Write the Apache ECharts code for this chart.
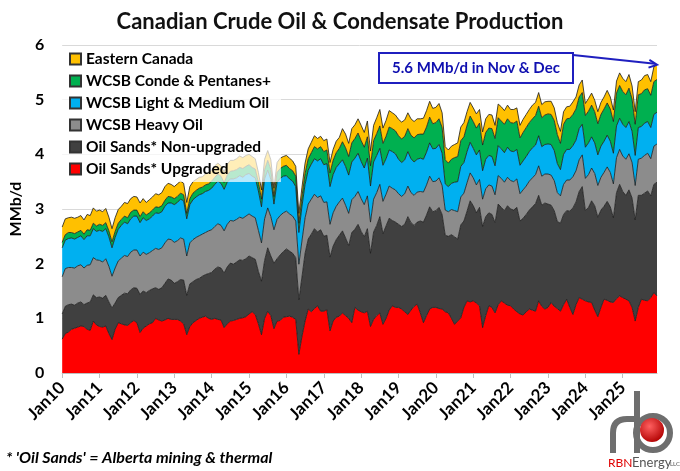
<!DOCTYPE html>
<html>
<head>
<meta charset="utf-8">
<script src="https://cdn.jsdelivr.net/npm/echarts@6/dist/echarts.min.js"></script>
<style>
  html, body { margin: 0; padding: 0; background: #fff; }
  #main { width: 680px; height: 471px; }
</style>
</head>
<body>
<div id="main"></div>
<script type="text/javascript">
// tick labels: Jan10 ... Dec25, monthly
var monthNames = ['Jan','Feb','Mar','Apr','May','Jun','Jul','Aug','Sep','Oct','Nov','Dec'];
var yearLabels = ['10','11','12','13','14','15','16','17','18','19','20','21','22','23','24','25'];

// MMb/d, one row per year
var upgraded = [
  0.62,0.72,0.75,0.80,0.82,0.84,0.86,0.85,0.80,0.78,0.95,0.88,
  0.85,0.84,0.86,0.72,0.61,0.80,0.92,0.90,0.88,0.87,0.92,0.96,
  0.92,0.74,0.82,0.86,0.90,0.92,1.00,0.97,0.95,0.97,1.00,0.98,
  0.98,0.98,0.95,0.90,0.70,0.85,0.92,0.96,1.00,1.02,1.04,1.00,
  0.98,1.00,0.98,0.97,0.83,0.90,0.95,0.96,0.98,1.00,1.01,1.03,
  1.08,1.12,1.07,0.90,0.70,1.00,1.13,1.05,0.81,0.95,0.96,1.02,
  1.03,1.04,1.02,0.98,0.34,0.67,0.95,1.17,1.12,1.18,1.23,1.13,
  1.13,1.16,0.77,0.95,1.02,1.04,1.10,1.05,1.00,0.92,1.20,1.15,
  1.12,1.10,1.13,0.85,0.98,1.05,1.10,0.89,1.00,1.15,1.23,1.20,
  1.20,1.17,1.12,1.07,1.15,1.22,1.26,1.10,0.92,1.05,1.17,1.20,
  1.20,1.18,1.17,1.12,1.10,1.00,0.89,0.95,1.01,1.20,1.32,1.30,
  1.32,1.28,1.23,0.83,1.05,1.23,1.20,1.10,1.25,1.32,1.28,1.24,
  1.23,1.17,1.12,1.08,1.06,1.12,1.17,1.15,1.13,1.32,1.22,1.17,
  1.20,1.29,1.22,1.18,1.13,1.25,1.35,1.20,1.07,1.25,1.38,1.35,
  1.32,1.30,1.29,1.15,1.03,1.20,1.35,1.33,1.30,1.29,1.36,1.41,
  1.38,1.35,1.32,1.20,0.95,1.20,1.35,1.33,1.32,1.38,1.47,1.41
];
var nonUpgraded = [
  0.46,0.50,0.50,0.46,0.42,0.44,0.44,0.40,0.48,0.52,0.48,0.50,
  0.54,0.53,0.56,0.58,0.58,0.48,0.46,0.52,0.58,0.58,0.60,0.60,
  0.63,0.70,0.68,0.61,0.61,0.62,0.56,0.56,0.61,0.67,0.72,0.72,
  0.66,0.69,0.76,0.80,0.72,0.78,0.75,0.75,0.73,0.75,0.76,0.82,
  0.86,0.90,0.96,0.95,1.00,1.04,1.06,1.03,1.05,1.07,1.05,1.06,
  1.06,0.99,1.01,0.96,0.98,1.06,1.16,1.09,1.20,1.14,1.20,1.20,
  1.24,1.19,1.17,1.13,1.00,1.09,1.24,1.28,1.42,1.46,1.35,1.49,
  1.37,1.36,1.35,1.37,1.42,1.48,1.50,1.42,1.33,1.65,1.43,1.57,
  1.47,1.39,1.51,1.34,1.60,1.65,1.76,1.66,1.69,1.68,1.56,1.56,
  1.52,1.51,1.60,1.79,1.60,1.48,1.50,1.68,1.84,1.84,1.87,1.75,
  1.77,1.85,1.73,1.40,1.40,1.53,1.60,1.50,1.70,1.58,1.64,1.85,
  1.74,1.65,1.80,1.85,1.81,1.70,1.70,1.65,1.84,1.71,1.69,1.82,
  1.77,1.81,1.91,1.70,1.77,1.78,1.81,1.89,1.97,1.93,1.85,1.94,
  1.89,1.78,1.75,1.59,1.61,1.65,1.62,1.76,1.95,1.88,1.94,2.06,
  1.65,1.73,1.86,1.91,1.82,1.78,1.70,1.81,1.74,1.55,1.94,2.04,
  1.94,1.90,2.03,2.00,1.85,2.05,1.90,1.96,2.01,1.86,1.98,2.08
];
var heavyOil = [
  0.68,0.69,0.68,0.67,0.68,0.68,0.68,0.67,0.69,0.68,0.68,0.69,
  0.67,0.66,0.67,0.65,0.58,0.64,0.67,0.68,0.69,0.68,0.69,0.69,
  0.70,0.70,0.71,0.70,0.69,0.70,0.72,0.73,0.73,0.74,0.73,0.74,
  0.75,0.75,0.76,0.75,0.72,0.75,0.77,0.77,0.78,0.77,0.77,0.78,
  0.78,0.78,0.79,0.78,0.77,0.78,0.78,0.79,0.78,0.78,0.77,0.78,
  0.77,0.76,0.76,0.75,0.70,0.76,0.73,0.72,0.61,0.72,0.72,0.71,
  0.69,0.68,0.68,0.67,0.65,0.66,0.65,0.64,0.64,0.63,0.63,0.62,
  0.62,0.61,0.60,0.61,0.61,0.61,0.60,0.60,0.59,0.60,0.60,0.60,
  0.60,0.59,0.60,0.57,0.60,0.60,0.59,0.59,0.58,0.59,0.59,0.59,
  0.56,0.55,0.56,0.56,0.55,0.55,0.55,0.54,0.55,0.55,0.56,0.55,
  0.54,0.54,0.53,0.46,0.45,0.46,0.48,0.50,0.51,0.51,0.52,0.51,
  0.51,0.51,0.51,0.50,0.51,0.51,0.52,0.51,0.52,0.53,0.52,0.52,
  0.52,0.52,0.52,0.50,0.52,0.52,0.53,0.53,0.53,0.54,0.53,0.53,
  0.55,0.55,0.55,0.53,0.50,0.55,0.56,0.57,0.57,0.57,0.58,0.58,
  0.59,0.60,0.60,0.59,0.58,0.60,0.62,0.63,0.63,0.62,0.64,0.64,
  0.65,0.66,0.66,0.65,0.63,0.66,0.68,0.69,0.69,0.68,0.70,0.70
];
var lightMedium = [
  0.53,0.52,0.53,0.54,0.53,0.52,0.53,0.52,0.54,0.53,0.53,0.52,
  0.55,0.56,0.55,0.54,0.52,0.56,0.58,0.60,0.61,0.60,0.61,0.62,
  0.62,0.61,0.63,0.62,0.62,0.63,0.65,0.66,0.66,0.67,0.66,0.67,
  0.69,0.70,0.71,0.70,0.68,0.70,0.73,0.74,0.75,0.74,0.75,0.74,
  0.76,0.77,0.78,0.77,0.76,0.77,0.76,0.77,0.76,0.76,0.75,0.76,
  0.74,0.73,0.73,0.72,0.66,0.73,0.69,0.68,0.47,0.68,0.68,0.67,
  0.65,0.64,0.64,0.63,0.58,0.63,0.61,0.62,0.64,0.65,0.67,0.68,
  0.69,0.70,0.69,0.70,0.71,0.70,0.70,0.71,0.70,0.69,0.70,0.70,
  0.68,0.67,0.69,0.66,0.68,0.68,0.66,0.66,0.65,0.66,0.67,0.66,
  0.63,0.62,0.62,0.63,0.62,0.61,0.60,0.61,0.60,0.60,0.61,0.60,
  0.60,0.61,0.59,0.48,0.46,0.48,0.52,0.55,0.56,0.56,0.57,0.56,
  0.54,0.55,0.54,0.52,0.54,0.54,0.54,0.53,0.55,0.54,0.54,0.55,
  0.54,0.55,0.54,0.52,0.53,0.54,0.54,0.55,0.54,0.55,0.54,0.54,
  0.55,0.56,0.55,0.53,0.48,0.55,0.56,0.56,0.57,0.56,0.57,0.56,
  0.57,0.58,0.57,0.56,0.56,0.57,0.57,0.58,0.57,0.56,0.58,0.57,
  0.58,0.58,0.59,0.57,0.55,0.58,0.58,0.59,0.58,0.57,0.58,0.58
];
var condePentanes = [
  0.10,0.10,0.11,0.10,0.10,0.10,0.10,0.10,0.11,0.10,0.10,0.10,
  0.11,0.11,0.11,0.11,0.11,0.11,0.11,0.11,0.11,0.11,0.12,0.11,
  0.11,0.11,0.11,0.10,0.11,0.11,0.11,0.11,0.11,0.11,0.12,0.11,
  0.11,0.11,0.11,0.11,0.10,0.11,0.12,0.12,0.12,0.12,0.12,0.12,
  0.13,0.13,0.13,0.13,0.12,0.13,0.14,0.15,0.15,0.15,0.16,0.15,
  0.16,0.16,0.16,0.16,0.14,0.17,0.18,0.18,0.14,0.18,0.18,0.18,
  0.19,0.19,0.19,0.19,0.17,0.18,0.20,0.21,0.21,0.22,0.22,0.22,
  0.24,0.25,0.25,0.26,0.27,0.28,0.33,0.34,0.34,0.35,0.36,0.37,
  0.38,0.38,0.39,0.37,0.39,0.40,0.41,0.40,0.41,0.42,0.42,0.42,
  0.43,0.43,0.43,0.42,0.43,0.44,0.45,0.44,0.46,0.46,0.47,0.46,
  0.47,0.47,0.47,0.44,0.43,0.44,0.45,0.46,0.47,0.47,0.48,0.48,
  0.49,0.49,0.49,0.47,0.49,0.50,0.51,0.50,0.51,0.51,0.52,0.52,
  0.52,0.52,0.52,0.50,0.52,0.53,0.53,0.53,0.54,0.54,0.53,0.54,
  0.55,0.55,0.55,0.53,0.48,0.55,0.56,0.57,0.57,0.57,0.58,0.58,
  0.58,0.58,0.58,0.57,0.57,0.58,0.59,0.59,0.59,0.58,0.60,0.60,
  0.60,0.60,0.61,0.59,0.57,0.60,0.60,0.61,0.60,0.59,0.60,0.60
];
var easternCanada = [
  0.28,0.29,0.27,0.28,0.28,0.27,0.27,0.26,0.28,0.27,0.28,0.27,
  0.26,0.25,0.26,0.25,0.24,0.25,0.25,0.24,0.25,0.26,0.25,0.25,
  0.24,0.25,0.24,0.23,0.24,0.24,0.24,0.23,0.24,0.25,0.24,0.23,
  0.22,0.23,0.22,0.21,0.20,0.22,0.21,0.20,0.20,0.19,0.20,0.20,
  0.20,0.21,0.20,0.19,0.20,0.20,0.20,0.19,0.20,0.21,0.20,0.20,
  0.19,0.20,0.19,0.18,0.17,0.19,0.18,0.18,0.15,0.18,0.19,0.18,
  0.18,0.19,0.18,0.18,0.18,0.17,0.19,0.18,0.19,0.20,0.19,0.19,
  0.20,0.20,0.19,0.20,0.21,0.20,0.24,0.25,0.24,0.26,0.25,0.26,
  0.28,0.27,0.29,0.27,0.28,0.29,0.30,0.28,0.29,0.30,0.29,0.29,
  0.30,0.31,0.30,0.29,0.30,0.30,0.29,0.28,0.29,0.30,0.29,0.28,
  0.28,0.28,0.27,0.24,0.24,0.24,0.24,0.25,0.25,0.26,0.25,0.25,
  0.25,0.26,0.25,0.24,0.25,0.25,0.25,0.24,0.25,0.26,0.25,0.25,
  0.24,0.25,0.24,0.23,0.24,0.24,0.24,0.25,0.24,0.25,0.24,0.24,
  0.23,0.24,0.23,0.22,0.22,0.23,0.22,0.22,0.23,0.22,0.22,0.23,
  0.22,0.23,0.22,0.21,0.22,0.22,0.22,0.23,0.22,0.21,0.22,0.23,
  0.24,0.24,0.25,0.24,0.23,0.24,0.25,0.26,0.26,0.25,0.27,0.27
];

var categories = [];
for (var y = 0; y < yearLabels.length; y++) {
  for (var m = 0; m < monthNames.length; m++) {
    categories.push(monthNames[m] + yearLabels[y]);
  }
}

var font = 'Lato, "Open Sans", sans-serif';
var myChart = echarts.init(document.getElementById('main'));

function layer(name, data, color) {
  return {
    name: name,
    type: 'line',
    stack: 'total',
    data: data,
    symbol: 'none',
    lineStyle: { width: 0.8, color: '#1a1a1a' },
    itemStyle: { color: color, borderColor: '#333', borderWidth: 1 },
    areaStyle: { color: color, opacity: 1 },
    emphasis: { disabled: true }
  };
}

var option = {
  animation: false,
  backgroundColor: '#fff',
  title: {
    text: 'Canadian Crude Oil & Condensate Production',
    left: 'center',
    top: 6,
    textStyle: { fontFamily: font, fontWeight: 'bold', fontSize: 22, color: '#111' }
  },
  grid: { left: 57, right: 23, top: 45, bottom: 98, containLabel: false },
  legend: {
    data: ['Eastern Canada', 'WCSB Conde & Pentanes+', 'WCSB Light & Medium Oil',
           'WCSB Heavy Oil', 'Oil Sands* Non-upgraded', 'Oil Sands* Upgraded'],
    orient: 'vertical',
    left: 59,
    top: 47,
    icon: 'rect',
    itemWidth: 11,
    itemHeight: 11,
    itemGap: 6,
    padding: [4, 10, 5, 10],
    backgroundColor: 'rgba(255,255,255,0.72)',
    textStyle: { fontFamily: font, fontWeight: 'bold', fontSize: 15.5, color: '#000' }
  },
  xAxis: {
    type: 'category',
    data: categories,
    boundaryGap: false,
    axisLine: { lineStyle: { color: '#bfbfbf' } },
    axisTick: { interval: 11, length: 5, lineStyle: { color: '#bfbfbf' } },
    axisLabel: {
      interval: 11,
      rotate: 45,
      margin: 12,
      fontFamily: font,
      fontWeight: 'bold',
      fontSize: 17,
      color: '#000'
    }
  },
  yAxis: {
    type: 'value',
    min: 0,
    max: 6,
    interval: 1,
    name: 'MMb/d',
    nameLocation: 'middle',
    nameGap: 37,
    nameTextStyle: { fontFamily: font, fontWeight: 'bold', fontSize: 16, color: '#000' },
    axisLine: { show: false },
    axisTick: { show: false },
    splitLine: { lineStyle: { color: '#d9d9d9' } },
    axisLabel: { margin: 18, fontFamily: font, fontWeight: 'bold', fontSize: 16, color: '#000' }
  },
  series: [
    layer('Oil Sands* Upgraded', upgraded, '#ff0000'),
    layer('Oil Sands* Non-upgraded', nonUpgraded, '#404040'),
    layer('WCSB Heavy Oil', heavyOil, '#8c8c8c'),
    layer('WCSB Light & Medium Oil', lightMedium, '#00b0f0'),
    layer('WCSB Conde & Pentanes+', condePentanes, '#00b050'),
    layer('Eastern Canada', easternCanada, '#ffc000')
  ]
};
myChart.setOption(option);

// annotation box + arrow to the last (stacked) point
var last = categories.length - 1;
var lastTotal = upgraded[last] + nonUpgraded[last] + heavyOil[last] +
                lightMedium[last] + condePentanes[last] + easternCanada[last];
var tip = myChart.convertToPixel({ xAxisIndex: 0, yAxisIndex: 0 }, [categories[last], lastTotal]);
var bx = 379, by = 53, bw = 194, bh = 30;
var ax = bx + bw, ay = by + 2;
var ang = Math.atan2(tip[1] - ay, tip[0] - ax);
var hl = 9;
var pipe = { stroke: '#6e6e6e', lineWidth: 6, fill: null };

myChart.setOption({
  graphic: [
    {
      type: 'rect', z: 100,
      shape: { x: bx, y: by, width: bw, height: bh },
      style: { fill: '#fff', stroke: '#1f1fbf', lineWidth: 2 }
    },
    {
      type: 'text', z: 101,
      x: bx + bw / 2, y: by + bh / 2,
      style: {
        text: '5.6 MMb/d in Nov & Dec', fill: '#1010b0',
        font: 'bold 15px ' + font, align: 'center', verticalAlign: 'middle'
      }
    },
    {
      type: 'line', z: 100,
      shape: { x1: ax, y1: ay, x2: tip[0] - 2, y2: tip[1] - 1 },
      style: { stroke: '#1f1fbf', lineWidth: 2 }
    },
    {
      type: 'polyline', z: 100,
      shape: { points: [
        [tip[0] - hl * Math.cos(ang - 0.45), tip[1] - hl * Math.sin(ang - 0.45)],
        [tip[0], tip[1]],
        [tip[0] - hl * Math.cos(ang + 0.45), tip[1] - hl * Math.sin(ang + 0.45)]
      ] },
      style: { stroke: '#1f1fbf', lineWidth: 2, fill: null }
    },
    // footnote
    {
      type: 'text', x: 6, y: 458,
      style: {
        text: "* 'Oil Sands' = Alberta mining & thermal", fill: '#000',
        font: 'italic bold 16px ' + font, verticalAlign: 'middle'
      }
    },
    // RBN logo, roughly drawn
    {
      type: 'group', x: 606, y: 389,
      children: [
        { type: 'line', shape: { x1: 7, y1: 64, x2: 7, y2: 44 }, style: pipe },
        { type: 'bezierCurve', shape: { x1: 7, y1: 44, cpx1: 7, cpy1: 30, x2: 21, y2: 30 }, style: pipe },
        { type: 'line', shape: { x1: 21, y1: 30, x2: 30, y2: 30 }, style: pipe },
        { type: 'line', shape: { x1: 31, y1: 2, x2: 31, y2: 64 }, style: pipe },
        { type: 'circle', shape: { cx: 47, cy: 44, r: 17 }, style: pipe },
        { type: 'circle', shape: { cx: 46, cy: 41, r: 12 },
          style: { fill: { type: 'radial', x: 0.4, y: 0.35, r: 0.7, colorStops: [
            { offset: 0, color: '#ff6060' }, { offset: 1, color: '#b00000' }] } } },
        { type: 'text', x: 2, y: 68,
          style: { text: 'RBN', fill: '#e00000', font: '12px ' + font } },
        { type: 'text', x: 26, y: 67,
          style: { text: 'Energy', fill: '#555', font: '13px ' + font } },
        { type: 'text', x: 64, y: 72,
          style: { text: 'LLC', fill: '#555', font: '6px ' + font } }
      ]
    }
  ]
});
</script>
</body>
</html>
